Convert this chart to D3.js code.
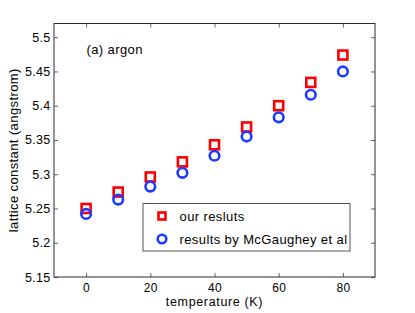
<!DOCTYPE html>
<html>
<head>
<meta charset="utf-8">
<script src="https://cdn.jsdelivr.net/npm/d3@7"></script>
<style>
  body { margin: 0; background: #fff; }
  text { font-family: "Liberation Sans", Arial, sans-serif; }
</style>
</head>
<body>
<svg id="chart"></svg>
<script>
const temps = [0, 10, 20, 30, 40, 50, 60, 70, 80]
const ours = [5.250, 5.274, 5.296, 5.318, 5.343, 5.369, 5.400, 5.434, 5.474]
const mcgaughey = [5.242, 5.263, 5.282, 5.302, 5.327, 5.355, 5.383, 5.416, 5.450]
const xTicks = [0, 20, 40, 60, 80]
const yTicks = [5.15, 5.2, 5.25, 5.3, 5.35, 5.4, 5.45, 5.5]
const legendLabels = ['our resluts', 'results by McGaughey et al']

const width = 415, height = 313
const margin = {top: 23.5, right: 40, bottom: 36, left: 54}
const fs = 13, ls = '0.4px'

const svg = d3.select('#chart').attr('width', width).attr('height', height)

const x = d3.scaleLinear().domain([-10, 90]).range([margin.left, width - margin.right])
const y = d3.scaleLinear().domain([5.15, 5.52]).range([height - margin.bottom, margin.top])

// bottom + top axes
svg.append('g')
    .attr('transform', `translate(0, ${height - margin.bottom})`)
    .call(d3.axisBottom(x).tickValues(xTicks).tickSizeInner(-4).tickSizeOuter(0).tickPadding(6.5).tickFormat(d3.format('d')))
    .call(g => g.select('.domain').remove())
    .style('font-size', '12px')
svg.append('g')
    .attr('transform', `translate(0, ${margin.top})`)
    .call(d3.axisTop(x).tickValues(xTicks).tickSizeInner(-4).tickSizeOuter(0).tickFormat(''))
    .call(g => g.select('.domain').remove())

// left + right axes
svg.append('g')
    .attr('transform', `translate(${margin.left}, 0)`)
    .call(d3.axisLeft(y).tickValues(yTicks).tickSizeInner(-4).tickSizeOuter(0).tickPadding(3.5).tickFormat(d3.format('')))
    .call(g => g.select('.domain').remove())
    .style('font-size', '12.5px')
svg.append('g')
    .attr('transform', `translate(${width - margin.right}, 0)`)
    .call(d3.axisRight(y).tickValues(yTicks).tickSizeInner(-4).tickSizeOuter(0).tickFormat(''))
    .call(g => g.select('.domain').remove())

svg.selectAll('.tick line').attr('stroke', '#666')
svg.selectAll('.tick text').attr('fill', '#000').style('letter-spacing', '0.3px')

// frame
svg.append('rect')
    .attr('x', margin.left).attr('y', margin.top)
    .attr('width', width - margin.left - margin.right)
    .attr('height', height - margin.top - margin.bottom)
    .attr('fill', 'none').attr('stroke', '#2a2a2a').attr('stroke-width', 1)

// axis labels
svg.append('text')
    .attr('x', x(40)).attr('y', 306)
    .attr('text-anchor', 'middle').attr('font-size', 12.5).style('letter-spacing', '0.65px')
    .text('temperature (K)')
svg.append('text')
    .attr('transform', `translate(17.5, ${(y(5.15) + y(5.52)) / 2}) rotate(-90)`)
    .attr('text-anchor', 'middle').attr('font-size', fs).style('letter-spacing', ls)
    .text('lattice constant (angstrom)')

svg.append('text')
    .attr('x', 86.5).attr('y', 53.5).attr('font-size', fs).style('letter-spacing', ls)
    .text('(a) argon')

const red = '#ff0000', blue = '#1a3cff'
const sq = 9

// our results: squares
svg.append('g').selectAll('rect')
    .data(temps)
    .join('rect')
    .attr('x', d => x(d) - sq / 2)
    .attr('y', (d, i) => y(ours[i]) - sq / 2)
    .attr('width', sq).attr('height', sq)
    .attr('fill', 'none').attr('stroke', red).attr('stroke-width', 2.6)

// McGaughey: circles
svg.append('g').selectAll('circle')
    .data(temps)
    .join('circle')
    .attr('cx', d => x(d))
    .attr('cy', (d, i) => y(mcgaughey[i]))
    .attr('r', 4.8)
    .attr('fill', 'none').attr('stroke', blue).attr('stroke-width', 2.6)

// legend
const lg = svg.append('g').attr('transform', 'translate(143, 203.5)')
lg.append('rect')
    .attr('width', 207).attr('height', 47.5)
    .attr('fill', '#fff').attr('stroke', '#555').attr('stroke-width', 1)
lg.append('rect')
    .attr('x', 19 - sq / 2 + 1).attr('y', 12.5 - sq / 2 + 1).attr('width', sq - 2).attr('height', sq - 2)
    .attr('fill', 'none').attr('stroke', red).attr('stroke-width', 2.6)
lg.append('circle')
    .attr('cx', 19).attr('cy', 35.5).attr('r', 4.3)
    .attr('fill', 'none').attr('stroke', blue).attr('stroke-width', 2.6)
lg.selectAll('text.lab')
    .data(legendLabels)
    .join('text')
    .attr('class', 'lab')
    .attr('x', 36.5)
    .attr('y', (d, i) => 17 + i * 23)
    .attr('font-size', fs).style('letter-spacing', ls)
    .text(d => d)
</script>
</body>
</html>
